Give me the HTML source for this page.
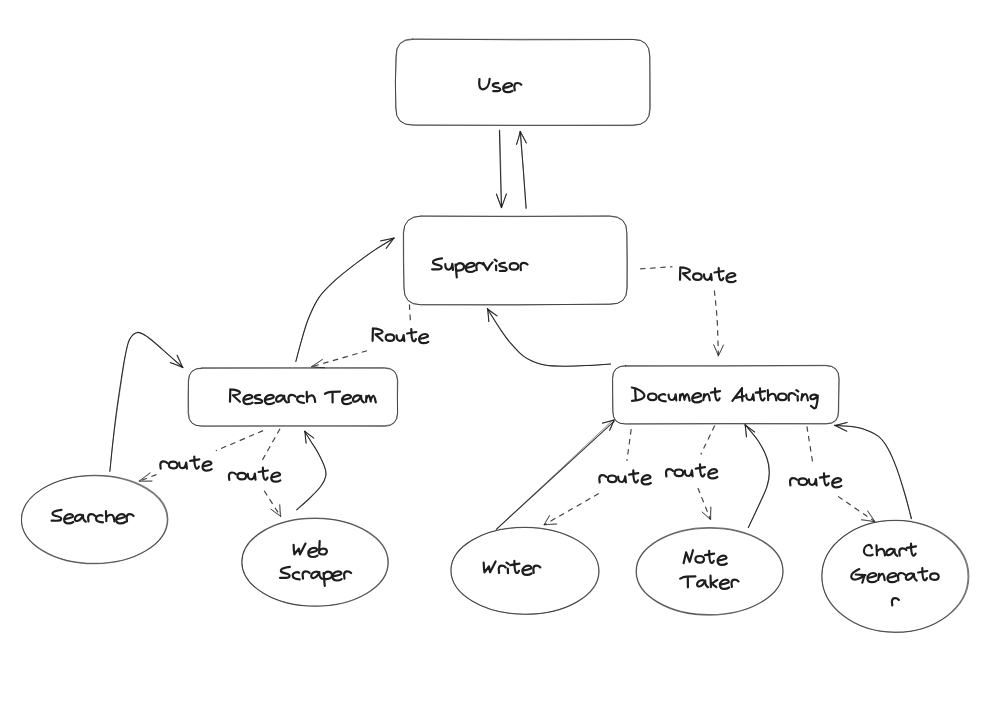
<!DOCTYPE html>
<html><head><meta charset="utf-8"><title>Hierarchical agent teams</title>
<style>
html,body{margin:0;padding:0;background:#fff;font-family:"Liberation Sans",sans-serif;}
body{width:1000px;height:707px;overflow:hidden;}
svg{display:block;}
.sh path,.sh rect,.sh ellipse{fill:none;stroke:#1e1e1e;stroke-width:1.05;stroke-opacity:0.9;stroke-linecap:round;stroke-linejoin:round;}
.sh .s1{stroke-opacity:0.55;stroke-width:0.9;}
.sh .b0,.sh .b1{stroke-opacity:0.6;stroke-width:1;}
.sh .d{stroke-dasharray:5.5 4.5;stroke-opacity:0.85;stroke-width:1.15;stroke-linecap:butt;}
.sh .da{stroke-opacity:0.6;stroke-width:0.9;}
.tx .lbl{font-family:"Liberation Sans",sans-serif;font-size:19px;fill:none;stroke:none;}
.tx path{fill:none;stroke:#1e1e1e;stroke-width:2.2;stroke-linecap:round;stroke-linejoin:round;}
</style></head><body>
<svg width="1000" height="707" viewBox="0 0 1000 707">
<rect width="1000" height="707" fill="#fff"/>
<g class="sh">
<path class="b0" d="M412.8,39.3 L523.1,39.3 L632.9,39.4 Q649.7,39.3 650.0,56.5 L649.7,82.2 L649.7,108.5 Q650.0,125.0 633.2,125.6 L522.9,125.4 L412.6,125.0 Q395.8,125.0 395.6,108.1 L395.5,82.3 L395.8,56.5 Q395.8,39.4 412.8,39.4"/>
<path class="b1" d="M412.7,39.0 L523.4,39.9 L633.3,39.5 Q649.7,39.0 649.6,55.8 L650.2,82.2 L650.3,108.2 Q650.4,125.7 632.3,125.0 L523.3,125.3 L413.4,125.2 Q395.3,125.5 396.1,108.0 L395.3,82.1 L396.4,56.6 Q395.3,39.0 412.3,38.8"/>
<path class="b0" d="M421.0,216.0 L515.5,216.2 L609.9,216.3 Q626.9,216.3 626.9,233.2 L626.9,260.2 L627.4,287.7 Q627.0,304.7 609.9,304.4 L515.7,304.6 L420.6,304.8 Q403.6,304.4 404.0,287.4 L403.7,260.1 L403.6,233.2 Q403.6,216.3 420.7,216.2"/>
<path class="b1" d="M421.4,216.2 L515.5,216.6 L609.7,215.8 Q627.6,216.6 626.8,232.8 L627.4,260.9 L626.7,288.0 Q627.6,304.6 610.0,304.0 L514.9,305.1 L420.5,304.7 Q403.5,304.9 403.9,287.3 L403.4,260.6 L403.3,232.9 Q403.9,216.6 420.9,215.9"/>
<path class="b0" d="M201.9,367.7 L292.7,367.8 L384.4,367.6 Q397.2,367.8 397.4,380.7 L397.3,397.1 L397.7,413.0 Q397.5,426.0 384.2,425.6 L292.7,426.1 L201.7,426.2 Q188.3,426.0 188.6,413.0 L188.5,397.2 L188.3,380.9 Q188.7,368.1 201.7,368.0"/>
<path class="b1" d="M202.0,368.4 L292.8,368.1 L384.9,368.3 Q397.3,368.2 397.8,381.0 L397.5,396.8 L397.5,413.0 Q396.9,426.1 385.0,426.4 L293.3,425.8 L201.9,426.0 Q188.5,426.3 188.1,413.2 L188.0,397.0 L188.6,380.6 Q188.8,367.9 201.7,368.4"/>
<path class="b0" d="M625.5,365.6 L725.6,366.0 L825.7,365.7 Q839.1,366.0 838.9,379.1 L838.8,395.0 L838.7,411.0 Q839.1,424.2 826.1,423.9 L725.8,423.9 L625.4,424.0 Q612.8,424.2 612.7,411.3 L612.5,394.8 L612.6,378.8 Q612.4,365.8 625.7,365.9"/>
<path class="b1" d="M625.4,366.3 L726.3,365.8 L825.4,365.3 Q839.3,365.3 839.2,379.0 L838.7,395.3 L838.3,410.6 Q838.8,423.4 826.3,423.7 L725.3,423.5 L625.8,423.9 Q612.8,424.2 613.0,411.6 L612.8,394.6 L612.6,378.5 Q612.0,365.9 625.9,365.5"/>
<ellipse class="b0" cx="94.3" cy="519.5" rx="72.9" ry="43.8" transform="rotate(0.14 94.4 519.6)"/>
<ellipse class="b1" cx="94.7" cy="519.5" rx="73.2" ry="44.3" transform="rotate(-0.50 94.4 519.6)"/>
<ellipse class="b0" cx="314.9" cy="562.3" rx="73.0" ry="43.7" transform="rotate(0.15 314.6 562.2)"/>
<ellipse class="b1" cx="315.1" cy="562.1" rx="73.3" ry="44.2" transform="rotate(0.36 314.6 562.2)"/>
<ellipse class="b0" cx="524.9" cy="570.7" rx="73.9" ry="43.5" transform="rotate(0.27 524.6 570.7)"/>
<ellipse class="b1" cx="525.0" cy="570.9" rx="74.1" ry="43.4" transform="rotate(0.48 524.6 570.7)"/>
<ellipse class="b0" cx="709.5" cy="571.3" rx="73.5" ry="43.9" transform="rotate(-0.22 709.2 571)"/>
<ellipse class="b1" cx="709.7" cy="571.4" rx="73.3" ry="43.2" transform="rotate(-0.07 709.2 571)"/>
<ellipse class="b0" cx="895.4" cy="576.2" rx="73.5" ry="55.9" transform="rotate(0.37 895.4 576.0)"/>
<ellipse class="b1" cx="894.9" cy="576.4" rx="73.1" ry="56.0" transform="rotate(0.35 895.4 576.0)"/>
<path d="M499.4,130.5 Q500.2,168.7 501.6,207.6"/>
<path class="s1" d="M499.8,130.0 Q501.1,168.9 501.2,207.5"/>
<path d="M496.4,194.0 Q498.8,200.9 501.6,207.5"/>
<path class="s1" d="M496.7,194.3 Q498.7,200.6 501.3,207.8"/>
<path d="M506.3,193.9 Q504.1,200.8 501.5,207.5"/>
<path class="s1" d="M506.7,194.0 Q504.0,200.2 501.4,207.7"/>
<path d="M526.2,208.2 Q523.3,170.0 520.4,131.6"/>
<path class="s1" d="M525.9,208.4 Q523.9,170.6 520.0,131.5"/>
<path d="M516.5,144.4 Q518.6,138.2 520.3,131.6"/>
<path class="s1" d="M516.7,144.1 Q519.0,137.6 520.2,131.4"/>
<path d="M526.4,143.0 Q523.5,137.2 520.3,131.7"/>
<path class="s1" d="M526.2,142.8 Q522.9,137.3 520.4,131.5"/>
<path d="M295.9,361.4 C296.8,358.1 299.1,348.9 301.2,341.7 C303.3,334.5 305.6,325.7 308.6,318.3 C311.6,310.9 314.8,303.5 319.2,297.1 C323.6,290.8 329.0,285.9 335.2,280.2 C341.4,274.5 349.7,268.3 356.4,263.2 C363.1,258.1 369.2,253.6 375.5,249.4 C381.8,245.2 390.8,240.1 393.9,238.2"/>
<path class="s1" d="M295.8,361.3 C296.7,358.0 299.1,348.6 301.2,341.4 C303.3,334.3 305.3,325.8 308.4,318.4 C311.4,311.0 314.8,303.5 319.3,297.1 C323.8,290.8 329.3,286.0 335.5,280.3 C341.7,274.6 350.0,268.1 356.7,263.0 C363.4,257.9 369.4,253.8 375.7,249.6 C381.9,245.5 391.1,240.0 394.2,238.1"/>
<path d="M380.7,241.1 Q387.3,239.8 394.0,238.1"/>
<path class="s1" d="M380.6,240.6 Q387.0,239.8 394.2,238.1"/>
<path d="M386.1,248.4 Q390.1,243.1 393.7,238.1"/>
<path class="s1" d="M386.5,248.0 Q390.2,243.7 393.9,238.4"/>
<path class="d" d="M409.4,304.5 C409.6,307.5 410.3,319.6 410.5,322.6"/>
<path class="d" d="M367.0,350.8 C357.8,353.4 321.0,364.1 311.8,366.7"/>
<path class="da" d="M322.3,359.6 Q317.1,363.3 311.7,366.6"/>
<path class="da" d="M322.5,359.4 Q317.2,363.2 311.5,366.5"/>
<path class="da" d="M324.6,367.7 Q318.3,367.5 311.7,366.8"/>
<path class="da" d="M324.4,367.8 Q318.1,367.6 311.8,366.6"/>
<path class="d" d="M640.1,268.9 C645.5,268.5 667.1,267.1 672.5,266.7"/>
<path class="d" d="M714.3,290.5 C714.8,295.0 716.3,306.7 717.0,317.5 C717.7,328.3 718.2,349.0 718.4,355.3"/>
<path class="da" d="M713.9,345.1 Q716.1,350.2 718.3,355.8"/>
<path class="da" d="M713.6,344.7 Q716.4,350.3 718.4,355.4"/>
<path class="da" d="M723.3,345.1 Q721.0,350.5 718.4,355.8"/>
<path class="da" d="M723.6,345.2 Q720.9,350.4 718.2,356.1"/>
<path d="M610.4,363.9 C606.4,364.2 594.6,365.2 586.1,365.6 C577.6,366.0 566.8,366.4 559.1,366.1 C551.5,365.8 546.1,365.5 540.2,363.9 C534.4,362.3 529.0,360.1 524.0,356.6 C519.0,353.1 514.5,347.8 510.5,343.1 C506.4,338.4 503.5,334.0 499.7,328.3 C495.9,322.6 489.5,312.1 487.5,308.9"/>
<path class="s1" d="M610.6,364.1 C606.6,364.4 594.9,365.1 586.4,365.5 C577.8,365.9 567.1,366.6 559.4,366.4 C551.8,366.2 546.2,365.8 540.4,364.1 C534.5,362.5 529.2,360.1 524.2,356.5 C519.3,353.0 514.8,347.5 510.7,342.8 C506.6,338.0 503.5,333.9 499.6,328.3 C495.6,322.6 489.2,312.0 487.1,308.8"/>
<path d="M488.8,321.6 Q488.3,315.3 487.6,308.8"/>
<path class="s1" d="M488.9,321.4 Q488.4,315.3 487.9,309.0"/>
<path d="M497.2,315.9 Q492.3,312.6 487.5,309.0"/>
<path class="s1" d="M496.6,315.9 Q492.0,312.4 487.4,308.6"/>
<path d="M109.9,471.2 C110.4,466.8 111.6,453.9 112.6,444.5 C113.6,435.1 114.7,425.3 116.0,415.1 C117.3,404.9 119.1,393.2 120.6,383.4 C122.1,373.6 123.6,363.6 125.1,356.2 C126.6,348.8 127.5,343.2 129.6,339.2 C131.7,335.2 134.5,332.8 137.5,332.4 C140.5,332.0 143.5,334.2 147.7,337.0 C151.8,339.8 156.6,344.3 162.4,349.4 C168.2,354.5 179.4,364.5 182.8,367.5"/>
<path class="s1" d="M109.7,471.5 C110.2,467.0 111.5,453.9 112.6,444.5 C113.8,435.1 115.0,425.3 116.4,415.2 C117.8,405.0 119.5,393.4 121.0,383.5 C122.5,373.6 123.9,363.2 125.3,355.9 C126.8,348.5 127.7,343.3 129.7,339.4 C131.6,335.6 134.2,333.1 137.1,332.7 C140.1,332.3 143.3,334.2 147.4,337.0 C151.6,339.8 156.2,344.4 162.1,349.4 C168.0,354.4 179.4,364.2 182.9,367.1"/>
<path d="M170.4,362.6 Q176.8,365.0 182.8,367.4"/>
<path class="s1" d="M170.2,362.8 Q176.8,365.1 182.6,367.1"/>
<path d="M177.0,355.2 Q179.8,361.1 182.8,367.6"/>
<path class="s1" d="M177.5,355.5 Q180.2,360.8 182.5,367.8"/>
<path class="d" d="M263.1,430.6 C255.2,434.0 223.7,447.4 215.8,450.8"/>
<path class="d" d="M156.4,474.6 C153.5,475.7 142.1,480.1 139.2,481.2"/>
<path class="da" d="M150.0,472.7 Q144.5,477.0 139.2,481.3"/>
<path class="da" d="M150.2,473.1 Q144.8,477.0 139.3,480.9"/>
<path class="da" d="M151.9,481.1 Q145.7,481.2 139.2,481.1"/>
<path class="da" d="M152.0,481.0 Q145.5,481.4 139.3,481.1"/>
<path class="d" d="M280.0,428.8 C277.0,434.1 265.0,455.4 262.0,460.7"/>
<path class="d" d="M264.2,490.8 C266.9,495.1 277.9,512.1 280.7,516.4"/>
<path class="da" d="M271.0,509.2 Q275.9,512.8 280.8,516.3"/>
<path class="da" d="M271.0,509.2 Q275.3,513.2 280.6,516.2"/>
<path class="da" d="M279.6,504.7 Q280.2,510.6 280.8,516.3"/>
<path class="da" d="M279.9,505.0 Q279.8,511.1 280.3,516.0"/>
<path d="M296.7,509.8 C298.8,507.9 305.4,502.4 309.4,498.5 C313.4,494.6 318.0,490.1 320.7,486.5 C323.4,482.9 325.0,479.7 325.7,476.6 C326.4,473.5 326.3,472.1 325.0,468.1 C323.7,464.1 320.3,457.0 317.9,452.5 C315.5,448.0 313.0,444.7 310.8,441.2 C308.6,437.7 305.6,432.9 304.5,431.3"/>
<path class="s1" d="M296.5,509.7 C298.7,507.8 305.5,502.1 309.5,498.2 C313.5,494.3 318.1,489.7 320.7,486.2 C323.4,482.6 324.7,479.7 325.4,476.7 C326.1,473.7 326.3,472.2 325.0,468.2 C323.8,464.2 320.2,457.0 317.8,452.5 C315.4,448.0 312.8,444.6 310.6,441.1 C308.4,437.6 305.7,433.2 304.7,431.6"/>
<path d="M306.1,443.1 Q305.2,437.1 305.0,431.3"/>
<path class="s1" d="M306.2,443.0 Q305.4,437.0 305.0,431.8"/>
<path d="M313.8,438.1 Q309.2,434.7 304.9,431.4"/>
<path class="s1" d="M313.4,437.7 Q308.8,435.2 305.0,431.4"/>
<path d="M496.3,529.3 L614.3,421.2"/>
<path class="s1" d="M496.4,529.2 Q555,474.6 613.4,419.6"/>
<path d="M602.5,423.1 Q608.2,421.6 613.8,420.2"/>
<path class="s1" d="M602.6,423.4 Q607.6,421.4 613.7,419.8"/>
<path d="M609.6,430.3 Q611.7,425.4 614.0,420.1"/>
<path class="s1" d="M609.9,430.4 Q612.3,425.8 614.1,419.9"/>
<path class="d" d="M631.2,429.2 C630.5,434.5 627.6,455.6 626.9,460.9"/>
<path class="d" d="M598.8,493.5 C589.7,498.7 553.4,519.5 544.3,524.7"/>
<path class="da" d="M549.7,515.7 Q546.9,520.1 544.2,524.7"/>
<path class="da" d="M549.5,515.5 Q546.8,520.0 544.1,524.8"/>
<path class="da" d="M556.9,524.0 Q550.7,524.4 544.2,524.8"/>
<path class="da" d="M556.4,524.0 Q551.0,524.1 544.3,524.8"/>
<path class="d" d="M714.7,425.6 C712.4,430.4 703.1,449.6 700.8,454.4"/>
<path class="d" d="M697.9,488.0 C700.0,493.2 708.3,514.0 710.4,519.2"/>
<path class="da" d="M702.1,511.9 Q706.4,515.7 710.4,519.3"/>
<path class="da" d="M702.2,512.3 Q705.7,515.1 710.1,519.3"/>
<path class="da" d="M710.9,507.1 Q710.5,513.3 710.3,519.3"/>
<path class="da" d="M710.8,507.1 Q710.7,513.5 710.8,519.3"/>
<path d="M748.3,527.6 C750.0,524.0 755.3,512.8 758.4,506.0 C761.5,499.2 765.0,492.4 766.8,486.8 C768.6,481.2 769.2,477.2 769.2,472.4 C769.2,467.6 768.6,463.2 766.8,458.0 C765.0,452.8 762.0,446.7 758.4,441.2 C754.8,435.7 747.4,427.6 745.2,424.9"/>
<path class="s1" d="M748.3,527.6 C750.0,524.1 755.4,513.0 758.6,506.2 C761.7,499.3 765.3,492.3 767.1,486.7 C768.9,481.1 769.5,477.3 769.5,472.5 C769.5,467.8 768.9,463.4 767.1,458.2 C765.3,453.1 762.3,447.0 758.7,441.5 C755.1,436.0 747.7,427.8 745.6,425.0"/>
<path d="M746.5,436.9 Q745.8,431.0 745.2,424.8"/>
<path class="s1" d="M746.3,436.6 Q746.1,431.5 745.0,424.8"/>
<path d="M754.7,432.0 Q749.9,428.7 745.1,424.9"/>
<path class="s1" d="M754.4,432.1 Q750.3,428.1 745.3,425.2"/>
<path class="d" d="M806.9,426.3 C807.9,432.8 812.1,458.7 813.1,465.2"/>
<path class="d" d="M838.1,496.4 C844.2,500.6 868.7,517.4 874.8,521.6"/>
<path class="da" d="M861.5,519.8 Q868.0,520.6 874.7,521.7"/>
<path class="da" d="M861.3,519.7 Q868.3,520.4 874.5,521.8"/>
<path class="da" d="M867.7,510.8 Q871.1,516.2 874.7,521.7"/>
<path class="da" d="M867.6,511.2 Q871.7,516.0 874.8,521.4"/>
<path d="M911.5,518.5 C910.4,514.4 907.3,502.5 904.8,494.0 C902.3,485.5 899.2,475.2 896.4,467.6 C893.6,460.0 891.0,453.6 888.0,448.4 C885.0,443.2 882.4,439.6 878.4,436.4 C874.4,433.2 868.8,430.9 864.0,429.2 C859.2,427.5 854.5,426.9 849.6,426.3 C844.7,425.7 837.2,425.5 834.7,425.4"/>
<path class="s1" d="M911.1,518.9 C910.1,514.7 907.5,502.4 905.0,493.9 C902.6,485.4 899.3,475.1 896.4,467.6 C893.6,460.1 890.8,454.0 887.8,448.8 C884.8,443.6 882.6,439.5 878.5,436.2 C874.5,432.9 868.4,430.8 863.6,429.2 C858.8,427.6 854.3,427.2 849.5,426.5 C844.7,425.9 837.3,425.7 834.9,425.5"/>
<path d="M847.1,422.4 Q840.8,423.8 834.8,425.4"/>
<path class="s1" d="M847.0,422.5 Q841.1,424.5 834.4,425.6"/>
<path d="M846.8,431.2 Q840.5,428.4 834.6,425.3"/>
<path class="s1" d="M846.7,431.1 Q841.0,427.8 835.1,425.5"/>
</g>
<g class="tx">
<g aria-label="User"><text class="lbl" x="478.1" y="90.1">User</text>
<path transform="translate(478.56,90.10)" d="M0.9,-11.1 C0.3,-6 0.5,-0.8 4,-0.8 C8,-0.8 10.8,-5 11.1,-11.3"/>
<path transform="translate(491.50,90.10)" d="M6.8,-7.0 C5,-7.2 1.4,-6.6 1.2,-5.0 C1.1,-3.9 2.8,-3.4 4.1,-3.1 C6,-2.6 8.7,-2.2 8.8,-0.8 C8.9,0.4 7.4,0.9 6,1.0 C4.5,1.1 3,1.1 1.8,1.1"/>
<path transform="translate(502.40,90.10)" d="M1.1,-2.1 C3,-2.4 6.5,-3 8.7,-4.0 C9.6,-4.5 9.9,-5.2 9.5,-5.8 C9,-6.6 8,-7.1 6.7,-7.1 C3.5,-7.1 0.8,-4.8 0.8,-1.8 C0.8,0.6 2.6,2.1 5.2,2.1 C7,2.1 8.8,1.5 10,0.7"/>
<path transform="translate(513.33,90.10)" d="M1.4,0.2 C1.1,-2 0.9,-3.4 1.0,-4.2 C1.2,-6 2.5,-7.1 4.0,-7.1 C5.6,-7.1 7.1,-6.4 8.0,-5.4"/></g>
<g aria-label="Supervisor"><text class="lbl" x="431.0" y="269.9">Supervisor</text>
<path transform="translate(431.60,269.90)" d="M10.4,-11.5 C6.5,-11 1.5,-10 1.4,-7.9 C1.3,-6.4 3,-5.8 4.4,-5.5 C7,-4.9 10,-4.4 10.1,-2.8 C10.2,-1.2 8.5,-0.7 7,-0.6 C5,-0.5 2.5,-0.6 0.5,-0.6"/>
<path transform="translate(444.21,269.90)" d="M1.1,-5.8 C1,-2.4 2,-0.3 4.3,-0.3 C6.3,-0.3 7.7,-2.8 8.1,-6.0 L8.8,0.1"/>
<path transform="translate(454.50,269.90)" d="M1.0,-5.4 L2.3,7.4 M1.2,-3.7 C2.4,-5.8 4.8,-6.9 6.6,-6.6 C8.6,-6.2 9.6,-4.8 9.5,-3.1 C9.4,-1 7,0.6 3.8,0.7 C2.8,0.7 2,0.4 1.6,-0.1"/>
<path transform="translate(464.90,269.90)" d="M1.1,-2.1 C3,-2.4 6.5,-3 8.7,-4.0 C9.6,-4.5 9.9,-5.2 9.5,-5.8 C9,-6.6 8,-7.1 6.7,-7.1 C3.5,-7.1 0.8,-4.8 0.8,-1.8 C0.8,0.6 2.6,2.1 5.2,2.1 C7,2.1 8.8,1.5 10,0.7"/>
<path transform="translate(475.33,269.90)" d="M1.4,0.2 C1.1,-2 0.9,-3.4 1.0,-4.2 C1.2,-6 2.5,-7.1 4.0,-7.1 C5.6,-7.1 7.1,-6.4 8.0,-5.4"/>
<path transform="translate(482.40,269.90)" d="M0.9,-7.0 L5.0,0.1 C6.5,-3 8.5,-6 10.2,-7.6"/>
<path transform="translate(494.50,269.90)" d="M0.2,-10.2 L2.2,-8.9 M1.5,-4.3 L1.7,0.3"/>
<path transform="translate(498.00,269.90)" d="M6.8,-7.0 C5,-7.2 1.4,-6.6 1.2,-5.0 C1.1,-3.9 2.8,-3.4 4.1,-3.1 C6,-2.6 8.7,-2.2 8.8,-0.8 C8.9,0.4 7.4,0.9 6,1.0 C4.5,1.1 3,1.1 1.8,1.1"/>
<path transform="translate(508.80,269.90)" d="M5.2,-6.8 C2.6,-6.8 0.9,-5.3 0.9,-3.5 C0.9,-1.7 2.6,-0.2 5.2,-0.2 C7.8,-0.2 9.5,-1.7 9.5,-3.6 C9.5,-5.4 7.8,-6.8 5.2,-6.8 Z"/>
<path transform="translate(519.53,269.90)" d="M1.4,0.2 C1.1,-2 0.9,-3.4 1.0,-4.2 C1.2,-6 2.5,-7.1 4.0,-7.1 C5.6,-7.1 7.1,-6.4 8.0,-5.4"/></g>
<g aria-label="Route"><text class="lbl" x="678.9" y="280.1">Route</text>
<path transform="translate(678.60,280.10)" d="M1.7,-12.7 L1.4,-0.3 M1.7,-12.7 C6,-12.7 11.4,-11 11.3,-9.2 C11.2,-7.6 7,-6.9 4.3,-6.7 L11.3,-0.3"/>
<path transform="translate(692.20,280.10)" d="M5.2,-6.8 C2.6,-6.8 0.9,-5.3 0.9,-3.5 C0.9,-1.7 2.6,-0.2 5.2,-0.2 C7.8,-0.2 9.5,-1.7 9.5,-3.6 C9.5,-5.4 7.8,-6.8 5.2,-6.8 Z"/>
<path transform="translate(702.91,280.10)" d="M1.1,-5.8 C1,-2.4 2,-0.3 4.3,-0.3 C6.3,-0.3 7.7,-2.8 8.1,-6.0 L8.8,0.1"/>
<path transform="translate(713.90,280.10)" d="M4.8,-11.9 C4.8,-7 5,-1 6.8,0 C7.8,0.5 9,-0.5 9.4,-2 M0.6,-7.6 L9.8,-9.1"/>
<path transform="translate(725.60,280.10)" d="M1.1,-2.1 C3,-2.4 6.5,-3 8.7,-4.0 C9.6,-4.5 9.9,-5.2 9.5,-5.8 C9,-6.6 8,-7.1 6.7,-7.1 C3.5,-7.1 0.8,-4.8 0.8,-1.8 C0.8,0.6 2.6,2.1 5.2,2.1 C7,2.1 8.8,1.5 10,0.7"/></g>
<g aria-label="Route"><text class="lbl" x="371.5" y="341.1">Route</text>
<path transform="translate(371.20,341.10)" d="M1.7,-12.7 L1.4,-0.3 M1.7,-12.7 C6,-12.7 11.4,-11 11.3,-9.2 C11.2,-7.6 7,-6.9 4.3,-6.7 L11.3,-0.3"/>
<path transform="translate(384.80,341.10)" d="M5.2,-6.8 C2.6,-6.8 0.9,-5.3 0.9,-3.5 C0.9,-1.7 2.6,-0.2 5.2,-0.2 C7.8,-0.2 9.5,-1.7 9.5,-3.6 C9.5,-5.4 7.8,-6.8 5.2,-6.8 Z"/>
<path transform="translate(395.51,341.10)" d="M1.1,-5.8 C1,-2.4 2,-0.3 4.3,-0.3 C6.3,-0.3 7.7,-2.8 8.1,-6.0 L8.8,0.1"/>
<path transform="translate(406.50,341.10)" d="M4.8,-11.9 C4.8,-7 5,-1 6.8,0 C7.8,0.5 9,-0.5 9.4,-2 M0.6,-7.6 L9.8,-9.1"/>
<path transform="translate(418.30,341.10)" d="M1.1,-2.1 C3,-2.4 6.5,-3 8.7,-4.0 C9.6,-4.5 9.9,-5.2 9.5,-5.8 C9,-6.6 8,-7.1 6.7,-7.1 C3.5,-7.1 0.8,-4.8 0.8,-1.8 C0.8,0.6 2.6,2.1 5.2,2.1 C7,2.1 8.8,1.5 10,0.7"/></g>
<g aria-label="Research Team"><text class="lbl" x="228.9" y="402.0">Research Team</text>
<path transform="translate(228.60,402.00)" d="M1.7,-12.7 L1.4,-0.3 M1.7,-12.7 C6,-12.7 11.4,-11 11.3,-9.2 C11.2,-7.6 7,-6.9 4.3,-6.7 L11.3,-0.3"/>
<path transform="translate(242.60,402.00)" d="M1.1,-2.1 C3,-2.4 6.5,-3 8.7,-4.0 C9.6,-4.5 9.9,-5.2 9.5,-5.8 C9,-6.6 8,-7.1 6.7,-7.1 C3.5,-7.1 0.8,-4.8 0.8,-1.8 C0.8,0.6 2.6,2.1 5.2,2.1 C7,2.1 8.8,1.5 10,0.7"/>
<path transform="translate(253.40,402.00)" d="M6.8,-7.0 C5,-7.2 1.4,-6.6 1.2,-5.0 C1.1,-3.9 2.8,-3.4 4.1,-3.1 C6,-2.6 8.7,-2.2 8.8,-0.8 C8.9,0.4 7.4,0.9 6,1.0 C4.5,1.1 3,1.1 1.8,1.1"/>
<path transform="translate(264.10,402.00)" d="M1.1,-2.1 C3,-2.4 6.5,-3 8.7,-4.0 C9.6,-4.5 9.9,-5.2 9.5,-5.8 C9,-6.6 8,-7.1 6.7,-7.1 C3.5,-7.1 0.8,-4.8 0.8,-1.8 C0.8,0.6 2.6,2.1 5.2,2.1 C7,2.1 8.8,1.5 10,0.7"/>
<path transform="translate(274.80,402.00)" d="M9.2,-5.4 C8.2,-6.6 6.8,-6.9 5.6,-6.6 C3.2,-6 1.3,-4.2 1.3,-2.3 C1.3,-0.8 2.4,-0.2 3.6,-0.3 C5.6,-0.5 7.8,-2.8 9.4,-5.8 M9.4,-6.2 C9.3,-4 9.6,-2.6 10.2,-1.6 C10.8,-0.7 11.5,0 12.2,0.4"/>
<path transform="translate(287.53,402.00)" d="M1.4,0.2 C1.1,-2 0.9,-3.4 1.0,-4.2 C1.2,-6 2.5,-7.1 4.0,-7.1 C5.6,-7.1 7.1,-6.4 8.0,-5.4"/>
<path transform="translate(296.20,402.00)" d="M7.3,-5.6 C5.8,-7.0 0.9,-5.8 0.9,-2.9 C0.9,0 4.2,0.8 7.9,1.0"/>
<path transform="translate(305.90,402.00)" d="M0.8,-10.1 L1.2,-0.2 M1.2,-3.6 C2.5,-6.2 6,-7.4 7.6,-5.8 C8.8,-4.4 9,-2 9.3,0"/>
<path transform="translate(324.50,402.00)" d="M0.4,-8.2 C2.5,-9.4 4.5,-10.1 6.7,-10.2 L15.6,-10.4 M8.0,-10.2 L8.1,0.5"/>
<path transform="translate(341.30,402.00)" d="M1.1,-2.1 C3,-2.4 6.5,-3 8.7,-4.0 C9.6,-4.5 9.9,-5.2 9.5,-5.8 C9,-6.6 8,-7.1 6.7,-7.1 C3.5,-7.1 0.8,-4.8 0.8,-1.8 C0.8,0.6 2.6,2.1 5.2,2.1 C7,2.1 8.8,1.5 10,0.7"/>
<path transform="translate(351.70,402.00)" d="M9.2,-5.4 C8.2,-6.6 6.8,-6.9 5.6,-6.6 C3.2,-6 1.3,-4.2 1.3,-2.3 C1.3,-0.8 2.4,-0.2 3.6,-0.3 C5.6,-0.5 7.8,-2.8 9.4,-5.8 M9.4,-6.2 C9.3,-4 9.6,-2.6 10.2,-1.6 C10.8,-0.7 11.5,0 12.2,0.4"/>
<path transform="translate(364.30,402.00)" d="M2.0,-5.8 L1.8,0 M1.9,-2.6 C2.6,-4.6 3.6,-6.2 4.5,-6.4 C5.4,-6.4 5.8,-3.5 6.5,-0.5 M6.4,-1.6 C7.2,-4 8.2,-6 9.1,-6.2 C10.2,-6.2 10.8,-3 11.5,0.4"/></g>
<g aria-label="Document Authoring"><text class="lbl" x="630.7" y="400.3">Document Authoring</text>
<path transform="translate(631.20,400.30)" d="M3.9,-11.6 L4.6,-0.4 M0.6,-12.8 C6,-12.2 13.4,-8 13.2,-4.4 C13,-1.2 6,0.2 0.8,0.6"/>
<path transform="translate(647.10,400.30)" d="M5.2,-6.8 C2.6,-6.8 0.9,-5.3 0.9,-3.5 C0.9,-1.7 2.6,-0.2 5.2,-0.2 C7.8,-0.2 9.5,-1.7 9.5,-3.6 C9.5,-5.4 7.8,-6.8 5.2,-6.8 Z"/>
<path transform="translate(657.90,400.30)" d="M7.3,-5.6 C5.8,-7.0 0.9,-5.8 0.9,-2.9 C0.9,0 4.2,0.8 7.9,1.0"/>
<path transform="translate(667.51,400.30)" d="M1.1,-5.8 C1,-2.4 2,-0.3 4.3,-0.3 C6.3,-0.3 7.7,-2.8 8.1,-6.0 L8.8,0.1"/>
<path transform="translate(678.10,400.30)" d="M2.0,-5.8 L1.8,0 M1.9,-2.6 C2.6,-4.6 3.6,-6.2 4.5,-6.4 C5.4,-6.4 5.8,-3.5 6.5,-0.5 M6.4,-1.6 C7.2,-4 8.2,-6 9.1,-6.2 C10.2,-6.2 10.8,-3 11.5,0.4"/>
<path transform="translate(691.40,400.30)" d="M1.1,-2.1 C3,-2.4 6.5,-3 8.7,-4.0 C9.6,-4.5 9.9,-5.2 9.5,-5.8 C9,-6.6 8,-7.1 6.7,-7.1 C3.5,-7.1 0.8,-4.8 0.8,-1.8 C0.8,0.6 2.6,2.1 5.2,2.1 C7,2.1 8.8,1.5 10,0.7"/>
<path transform="translate(702.50,400.30)" d="M1.7,-6.3 L0.8,-0.1 M1.1,-2.2 C2.2,-4.4 3.8,-6.3 5.1,-6.3 C6.4,-6.2 6.9,-3 7.3,0.1"/>
<path transform="translate(710.20,400.30)" d="M4.8,-11.9 C4.8,-7 5,-1 6.8,0 C7.8,0.5 9,-0.5 9.4,-2 M0.6,-7.6 L9.8,-9.1"/>
<path transform="translate(729.40,400.30)" d="M12.6,-12.2 L3.0,0.5 M12.6,-12.2 C12.2,-8.5 12.6,-4 13.0,0.5 M6.2,-2.4 L14.6,-4.1"/>
<path transform="translate(745.11,400.30)" d="M1.1,-5.8 C1,-2.4 2,-0.3 4.3,-0.3 C6.3,-0.3 7.7,-2.8 8.1,-6.0 L8.8,0.1"/>
<path transform="translate(755.20,400.30)" d="M4.8,-11.9 C4.8,-7 5,-1 6.8,0 C7.8,0.5 9,-0.5 9.4,-2 M0.6,-7.6 L9.8,-9.1"/>
<path transform="translate(767.00,400.30)" d="M0.8,-10.1 L1.2,-0.2 M1.2,-3.6 C2.5,-6.2 6,-7.4 7.6,-5.8 C8.8,-4.4 9,-2 9.3,0"/>
<path transform="translate(777.10,400.30)" d="M5.2,-6.8 C2.6,-6.8 0.9,-5.3 0.9,-3.5 C0.9,-1.7 2.6,-0.2 5.2,-0.2 C7.8,-0.2 9.5,-1.7 9.5,-3.6 C9.5,-5.4 7.8,-6.8 5.2,-6.8 Z"/>
<path transform="translate(787.53,400.30)" d="M1.4,0.2 C1.1,-2 0.9,-3.4 1.0,-4.2 C1.2,-6 2.5,-7.1 4.0,-7.1 C5.6,-7.1 7.1,-6.4 8.0,-5.4"/>
<path transform="translate(796.10,400.30)" d="M0.2,-10.2 L2.2,-8.9 M1.5,-4.3 L1.7,0.3"/>
<path transform="translate(800.60,400.30)" d="M1.7,-6.3 L0.8,-0.1 M1.1,-2.2 C2.2,-4.4 3.8,-6.3 5.1,-6.3 C6.4,-6.2 6.9,-3 7.3,0.1"/>
<path transform="translate(809.40,400.30)" d="M7.4,-4.8 C6,-6.2 1,-6 1,-3 C1,-0.2 4.5,-0.4 7.5,-3.6 M8.4,-4.7 C8.2,0 7.6,4 6.6,7.2 L4.8,8.2 L1.5,5.6"/></g>
<g aria-label="route"><text class="lbl" x="159.2" y="468.5">route</text>
<path transform="translate(159.33,468.50)" d="M1.4,0.2 C1.1,-2 0.9,-3.4 1.0,-4.2 C1.2,-6 2.5,-7.1 4.0,-7.1 C5.6,-7.1 7.1,-6.4 8.0,-5.4"/>
<path transform="translate(168.00,468.50)" d="M5.2,-6.8 C2.6,-6.8 0.9,-5.3 0.9,-3.5 C0.9,-1.7 2.6,-0.2 5.2,-0.2 C7.8,-0.2 9.5,-1.7 9.5,-3.6 C9.5,-5.4 7.8,-6.8 5.2,-6.8 Z"/>
<path transform="translate(178.11,468.50)" d="M1.1,-5.8 C1,-2.4 2,-0.3 4.3,-0.3 C6.3,-0.3 7.7,-2.8 8.1,-6.0 L8.8,0.1"/>
<path transform="translate(189.50,468.50)" d="M4.8,-11.9 C4.8,-7 5,-1 6.8,0 C7.8,0.5 9,-0.5 9.4,-2 M0.6,-7.6 L9.8,-9.1"/>
<path transform="translate(201.70,468.50)" d="M1.1,-2.1 C3,-2.4 6.5,-3 8.7,-4.0 C9.6,-4.5 9.9,-5.2 9.5,-5.8 C9,-6.6 8,-7.1 6.7,-7.1 C3.5,-7.1 0.8,-4.8 0.8,-1.8 C0.8,0.6 2.6,2.1 5.2,2.1 C7,2.1 8.8,1.5 10,0.7"/></g>
<g aria-label="route"><text class="lbl" x="227.8" y="479.6">route</text>
<path transform="translate(227.93,479.60)" d="M1.4,0.2 C1.1,-2 0.9,-3.4 1.0,-4.2 C1.2,-6 2.5,-7.1 4.0,-7.1 C5.6,-7.1 7.1,-6.4 8.0,-5.4"/>
<path transform="translate(236.60,479.60)" d="M5.2,-6.8 C2.6,-6.8 0.9,-5.3 0.9,-3.5 C0.9,-1.7 2.6,-0.2 5.2,-0.2 C7.8,-0.2 9.5,-1.7 9.5,-3.6 C9.5,-5.4 7.8,-6.8 5.2,-6.8 Z"/>
<path transform="translate(246.71,479.60)" d="M1.1,-5.8 C1,-2.4 2,-0.3 4.3,-0.3 C6.3,-0.3 7.7,-2.8 8.1,-6.0 L8.8,0.1"/>
<path transform="translate(258.10,479.60)" d="M4.8,-11.9 C4.8,-7 5,-1 6.8,0 C7.8,0.5 9,-0.5 9.4,-2 M0.6,-7.6 L9.8,-9.1"/>
<path transform="translate(270.40,479.60)" d="M1.1,-2.1 C3,-2.4 6.5,-3 8.7,-4.0 C9.6,-4.5 9.9,-5.2 9.5,-5.8 C9,-6.6 8,-7.1 6.7,-7.1 C3.5,-7.1 0.8,-4.8 0.8,-1.8 C0.8,0.6 2.6,2.1 5.2,2.1 C7,2.1 8.8,1.5 10,0.7"/></g>
<g aria-label="route"><text class="lbl" x="598.2" y="482.3">route</text>
<path transform="translate(598.33,482.30)" d="M1.4,0.2 C1.1,-2 0.9,-3.4 1.0,-4.2 C1.2,-6 2.5,-7.1 4.0,-7.1 C5.6,-7.1 7.1,-6.4 8.0,-5.4"/>
<path transform="translate(607.00,482.30)" d="M5.2,-6.8 C2.6,-6.8 0.9,-5.3 0.9,-3.5 C0.9,-1.7 2.6,-0.2 5.2,-0.2 C7.8,-0.2 9.5,-1.7 9.5,-3.6 C9.5,-5.4 7.8,-6.8 5.2,-6.8 Z"/>
<path transform="translate(617.11,482.30)" d="M1.1,-5.8 C1,-2.4 2,-0.3 4.3,-0.3 C6.3,-0.3 7.7,-2.8 8.1,-6.0 L8.8,0.1"/>
<path transform="translate(628.50,482.30)" d="M4.8,-11.9 C4.8,-7 5,-1 6.8,0 C7.8,0.5 9,-0.5 9.4,-2 M0.6,-7.6 L9.8,-9.1"/>
<path transform="translate(640.80,482.30)" d="M1.1,-2.1 C3,-2.4 6.5,-3 8.7,-4.0 C9.6,-4.5 9.9,-5.2 9.5,-5.8 C9,-6.6 8,-7.1 6.7,-7.1 C3.5,-7.1 0.8,-4.8 0.8,-1.8 C0.8,0.6 2.6,2.1 5.2,2.1 C7,2.1 8.8,1.5 10,0.7"/></g>
<g aria-label="route"><text class="lbl" x="664.9" y="476.3">route</text>
<path transform="translate(665.03,476.30)" d="M1.4,0.2 C1.1,-2 0.9,-3.4 1.0,-4.2 C1.2,-6 2.5,-7.1 4.0,-7.1 C5.6,-7.1 7.1,-6.4 8.0,-5.4"/>
<path transform="translate(673.70,476.30)" d="M5.2,-6.8 C2.6,-6.8 0.9,-5.3 0.9,-3.5 C0.9,-1.7 2.6,-0.2 5.2,-0.2 C7.8,-0.2 9.5,-1.7 9.5,-3.6 C9.5,-5.4 7.8,-6.8 5.2,-6.8 Z"/>
<path transform="translate(683.81,476.30)" d="M1.1,-5.8 C1,-2.4 2,-0.3 4.3,-0.3 C6.3,-0.3 7.7,-2.8 8.1,-6.0 L8.8,0.1"/>
<path transform="translate(695.20,476.30)" d="M4.8,-11.9 C4.8,-7 5,-1 6.8,0 C7.8,0.5 9,-0.5 9.4,-2 M0.6,-7.6 L9.8,-9.1"/>
<path transform="translate(707.40,476.30)" d="M1.1,-2.1 C3,-2.4 6.5,-3 8.7,-4.0 C9.6,-4.5 9.9,-5.2 9.5,-5.8 C9,-6.6 8,-7.1 6.7,-7.1 C3.5,-7.1 0.8,-4.8 0.8,-1.8 C0.8,0.6 2.6,2.1 5.2,2.1 C7,2.1 8.8,1.5 10,0.7"/></g>
<g aria-label="route"><text class="lbl" x="788.9" y="485.2">route</text>
<path transform="translate(789.03,485.20)" d="M1.4,0.2 C1.1,-2 0.9,-3.4 1.0,-4.2 C1.2,-6 2.5,-7.1 4.0,-7.1 C5.6,-7.1 7.1,-6.4 8.0,-5.4"/>
<path transform="translate(797.70,485.20)" d="M5.2,-6.8 C2.6,-6.8 0.9,-5.3 0.9,-3.5 C0.9,-1.7 2.6,-0.2 5.2,-0.2 C7.8,-0.2 9.5,-1.7 9.5,-3.6 C9.5,-5.4 7.8,-6.8 5.2,-6.8 Z"/>
<path transform="translate(807.81,485.20)" d="M1.1,-5.8 C1,-2.4 2,-0.3 4.3,-0.3 C6.3,-0.3 7.7,-2.8 8.1,-6.0 L8.8,0.1"/>
<path transform="translate(819.20,485.20)" d="M4.8,-11.9 C4.8,-7 5,-1 6.8,0 C7.8,0.5 9,-0.5 9.4,-2 M0.6,-7.6 L9.8,-9.1"/>
<path transform="translate(831.40,485.20)" d="M1.1,-2.1 C3,-2.4 6.5,-3 8.7,-4.0 C9.6,-4.5 9.9,-5.2 9.5,-5.8 C9,-6.6 8,-7.1 6.7,-7.1 C3.5,-7.1 0.8,-4.8 0.8,-1.8 C0.8,0.6 2.6,2.1 5.2,2.1 C7,2.1 8.8,1.5 10,0.7"/></g>
<g aria-label="Searcher"><text class="lbl" x="50.5" y="521.3">Searcher</text>
<path transform="translate(51.10,521.30)" d="M10.4,-11.5 C6.5,-11 1.5,-10 1.4,-7.9 C1.3,-6.4 3,-5.8 4.4,-5.5 C7,-4.9 10,-4.4 10.1,-2.8 C10.2,-1.2 8.5,-0.7 7,-0.6 C5,-0.5 2.5,-0.6 0.5,-0.6"/>
<path transform="translate(63.30,521.30)" d="M1.1,-2.1 C3,-2.4 6.5,-3 8.7,-4.0 C9.6,-4.5 9.9,-5.2 9.5,-5.8 C9,-6.6 8,-7.1 6.7,-7.1 C3.5,-7.1 0.8,-4.8 0.8,-1.8 C0.8,0.6 2.6,2.1 5.2,2.1 C7,2.1 8.8,1.5 10,0.7"/>
<path transform="translate(73.60,521.30)" d="M9.2,-5.4 C8.2,-6.6 6.8,-6.9 5.6,-6.6 C3.2,-6 1.3,-4.2 1.3,-2.3 C1.3,-0.8 2.4,-0.2 3.6,-0.3 C5.6,-0.5 7.8,-2.8 9.4,-5.8 M9.4,-6.2 C9.3,-4 9.6,-2.6 10.2,-1.6 C10.8,-0.7 11.5,0 12.2,0.4"/>
<path transform="translate(87.13,521.30)" d="M1.4,0.2 C1.1,-2 0.9,-3.4 1.0,-4.2 C1.2,-6 2.5,-7.1 4.0,-7.1 C5.6,-7.1 7.1,-6.4 8.0,-5.4"/>
<path transform="translate(95.10,521.30)" d="M7.3,-5.6 C5.8,-7.0 0.9,-5.8 0.9,-2.9 C0.9,0 4.2,0.8 7.9,1.0"/>
<path transform="translate(105.15,521.30)" d="M0.8,-10.1 L1.2,-0.2 M1.2,-3.6 C2.5,-6.2 6,-7.4 7.6,-5.8 C8.8,-4.4 9,-2 9.3,0"/>
<path transform="translate(115.30,521.30)" d="M1.1,-2.1 C3,-2.4 6.5,-3 8.7,-4.0 C9.6,-4.5 9.9,-5.2 9.5,-5.8 C9,-6.6 8,-7.1 6.7,-7.1 C3.5,-7.1 0.8,-4.8 0.8,-1.8 C0.8,0.6 2.6,2.1 5.2,2.1 C7,2.1 8.8,1.5 10,0.7"/>
<path transform="translate(125.63,521.30)" d="M1.4,0.2 C1.1,-2 0.9,-3.4 1.0,-4.2 C1.2,-6 2.5,-7.1 4.0,-7.1 C5.6,-7.1 7.1,-6.4 8.0,-5.4"/></g>
<g aria-label="Web"><text class="lbl" x="292.5" y="554.9">Web</text>
<path transform="translate(292.00,554.90)" d="M1.6,-10.1 C1.7,-6 2,-3 2.4,-0.5 L6.8,-6.3 L8.0,-0.6 L13.5,-11.3"/>
<path transform="translate(307.50,554.90)" d="M1.1,-2.1 C3,-2.4 6.5,-3 8.7,-4.0 C9.6,-4.5 9.9,-5.2 9.5,-5.8 C9,-6.6 8,-7.1 6.7,-7.1 C3.5,-7.1 0.8,-4.8 0.8,-1.8 C0.8,0.6 2.6,2.1 5.2,2.1 C7,2.1 8.8,1.5 10,0.7"/>
<path transform="translate(317.90,554.90)" d="M1.8,-13.9 C1.5,-9 1.3,-5 1.2,-1.4 M1.3,-4.1 C2.4,-5.6 3.8,-6.4 5.2,-6.4 C7.5,-6.3 9,-5 9,-3.6 C9,-1.8 7.4,-0.4 5.4,-0.4 C3.6,-0.4 2,-0.9 1.3,-1.6"/></g>
<g aria-label="Scraper"><text class="lbl" x="278.9" y="578.4">Scraper</text>
<path transform="translate(279.50,578.40)" d="M10.4,-11.5 C6.5,-11 1.5,-10 1.4,-7.9 C1.3,-6.4 3,-5.8 4.4,-5.5 C7,-4.9 10,-4.4 10.1,-2.8 C10.2,-1.2 8.5,-0.7 7,-0.6 C5,-0.5 2.5,-0.6 0.5,-0.6"/>
<path transform="translate(291.80,578.40)" d="M7.3,-5.6 C5.8,-7.0 0.9,-5.8 0.9,-2.9 C0.9,0 4.2,0.8 7.9,1.0"/>
<path transform="translate(301.63,578.40)" d="M1.4,0.2 C1.1,-2 0.9,-3.4 1.0,-4.2 C1.2,-6 2.5,-7.1 4.0,-7.1 C5.6,-7.1 7.1,-6.4 8.0,-5.4"/>
<path transform="translate(309.90,578.40)" d="M9.2,-5.4 C8.2,-6.6 6.8,-6.9 5.6,-6.6 C3.2,-6 1.3,-4.2 1.3,-2.3 C1.3,-0.8 2.4,-0.2 3.6,-0.3 C5.6,-0.5 7.8,-2.8 9.4,-5.8 M9.4,-6.2 C9.3,-4 9.6,-2.6 10.2,-1.6 C10.8,-0.7 11.5,0 12.2,0.4"/>
<path transform="translate(322.50,578.40)" d="M1.0,-5.4 L2.3,7.4 M1.2,-3.7 C2.4,-5.8 4.8,-6.9 6.6,-6.6 C8.6,-6.2 9.6,-4.8 9.5,-3.1 C9.4,-1 7,0.6 3.8,0.7 C2.8,0.7 2,0.4 1.6,-0.1"/>
<path transform="translate(331.70,578.40)" d="M1.1,-2.1 C3,-2.4 6.5,-3 8.7,-4.0 C9.6,-4.5 9.9,-5.2 9.5,-5.8 C9,-6.6 8,-7.1 6.7,-7.1 C3.5,-7.1 0.8,-4.8 0.8,-1.8 C0.8,0.6 2.6,2.1 5.2,2.1 C7,2.1 8.8,1.5 10,0.7"/>
<path transform="translate(343.13,578.40)" d="M1.4,0.2 C1.1,-2 0.9,-3.4 1.0,-4.2 C1.2,-6 2.5,-7.1 4.0,-7.1 C5.6,-7.1 7.1,-6.4 8.0,-5.4"/></g>
<g aria-label="Writer"><text class="lbl" x="482.6" y="572.8">Writer</text>
<path transform="translate(482.10,572.80)" d="M1.6,-10.1 C1.7,-6 2,-3 2.4,-0.5 L6.8,-6.3 L8.0,-0.6 L13.5,-11.3"/>
<path transform="translate(497.73,572.80)" d="M1.4,0.2 C1.1,-2 0.9,-3.4 1.0,-4.2 C1.2,-6 2.5,-7.1 4.0,-7.1 C5.6,-7.1 7.1,-6.4 8.0,-5.4"/>
<path transform="translate(506.30,572.80)" d="M0.2,-10.2 L2.2,-8.9 M1.5,-4.3 L1.7,0.3"/>
<path transform="translate(509.60,572.80)" d="M4.8,-11.9 C4.8,-7 5,-1 6.8,0 C7.8,0.5 9,-0.5 9.4,-2 M0.6,-7.6 L9.8,-9.1"/>
<path transform="translate(521.60,572.80)" d="M1.1,-2.1 C3,-2.4 6.5,-3 8.7,-4.0 C9.6,-4.5 9.9,-5.2 9.5,-5.8 C9,-6.6 8,-7.1 6.7,-7.1 C3.5,-7.1 0.8,-4.8 0.8,-1.8 C0.8,0.6 2.6,2.1 5.2,2.1 C7,2.1 8.8,1.5 10,0.7"/>
<path transform="translate(532.33,572.80)" d="M1.4,0.2 C1.1,-2 0.9,-3.4 1.0,-4.2 C1.2,-6 2.5,-7.1 4.0,-7.1 C5.6,-7.1 7.1,-6.4 8.0,-5.4"/></g>
<g aria-label="Note"><text class="lbl" x="682.5" y="562.8">Note</text>
<path transform="translate(683.10,562.80)" d="M3.0,-10.4 L0.5,0.4 M3.0,-10.4 L6.6,-1.0 L9.9,-12.6"/>
<path transform="translate(694.50,562.80)" d="M5.2,-6.8 C2.6,-6.8 0.9,-5.3 0.9,-3.5 C0.9,-1.7 2.6,-0.2 5.2,-0.2 C7.8,-0.2 9.5,-1.7 9.5,-3.6 C9.5,-5.4 7.8,-6.8 5.2,-6.8 Z"/>
<path transform="translate(704.40,562.80)" d="M4.8,-11.9 C4.8,-7 5,-1 6.8,0 C7.8,0.5 9,-0.5 9.4,-2 M0.6,-7.6 L9.8,-9.1"/>
<path transform="translate(716.80,562.80)" d="M1.1,-2.1 C3,-2.4 6.5,-3 8.7,-4.0 C9.6,-4.5 9.9,-5.2 9.5,-5.8 C9,-6.6 8,-7.1 6.7,-7.1 C3.5,-7.1 0.8,-4.8 0.8,-1.8 C0.8,0.6 2.6,2.1 5.2,2.1 C7,2.1 8.8,1.5 10,0.7"/></g>
<g aria-label="Taker"><text class="lbl" x="679.1" y="586.8">Taker</text>
<path transform="translate(679.80,586.80)" d="M0.4,-8.2 C2.5,-9.4 4.5,-10.1 6.7,-10.2 L15.6,-10.4 M8.0,-10.2 L8.1,0.5"/>
<path transform="translate(695.80,586.80)" d="M9.2,-5.4 C8.2,-6.6 6.8,-6.9 5.6,-6.6 C3.2,-6 1.3,-4.2 1.3,-2.3 C1.3,-0.8 2.4,-0.2 3.6,-0.3 C5.6,-0.5 7.8,-2.8 9.4,-5.8 M9.4,-6.2 C9.3,-4 9.6,-2.6 10.2,-1.6 C10.8,-0.7 11.5,0 12.2,0.4"/>
<path transform="translate(709.80,586.80)" d="M0.7,-11.1 L1.1,0.3 M7.6,-7.0 L1.9,-3.1 L6.6,0.3"/>
<path transform="translate(719.10,586.80)" d="M1.1,-2.1 C3,-2.4 6.5,-3 8.7,-4.0 C9.6,-4.5 9.9,-5.2 9.5,-5.8 C9,-6.6 8,-7.1 6.7,-7.1 C3.5,-7.1 0.8,-4.8 0.8,-1.8 C0.8,0.6 2.6,2.1 5.2,2.1 C7,2.1 8.8,1.5 10,0.7"/>
<path transform="translate(730.53,586.80)" d="M1.4,0.2 C1.1,-2 0.9,-3.4 1.0,-4.2 C1.2,-6 2.5,-7.1 4.0,-7.1 C5.6,-7.1 7.1,-6.4 8.0,-5.4"/></g>
<g aria-label="Chart"><text class="lbl" x="862.8" y="555.5">Chart</text>
<path transform="translate(862.60,555.50)" d="M9.2,-7.3 C9,-9.5 7.5,-10.8 6,-10.5 C3.5,-10 1.3,-7.5 1.3,-4.6 C1.3,-1.8 3.5,0 6.5,0 C8,0 9.2,-0.3 10,-0.8"/>
<path transform="translate(875.70,555.50)" d="M0.8,-10.1 L1.2,-0.2 M1.2,-3.6 C2.5,-6.2 6,-7.4 7.6,-5.8 C8.8,-4.4 9,-2 9.3,0"/>
<path transform="translate(885.10,555.50)" d="M9.2,-5.4 C8.2,-6.6 6.8,-6.9 5.6,-6.6 C3.2,-6 1.3,-4.2 1.3,-2.3 C1.3,-0.8 2.4,-0.2 3.6,-0.3 C5.6,-0.5 7.8,-2.8 9.4,-5.8 M9.4,-6.2 C9.3,-4 9.6,-2.6 10.2,-1.6 C10.8,-0.7 11.5,0 12.2,0.4"/>
<path transform="translate(898.33,555.50)" d="M1.4,0.2 C1.1,-2 0.9,-3.4 1.0,-4.2 C1.2,-6 2.5,-7.1 4.0,-7.1 C5.6,-7.1 7.1,-6.4 8.0,-5.4"/>
<path transform="translate(906.20,555.50)" d="M4.8,-11.9 C4.8,-7 5,-1 6.8,0 C7.8,0.5 9,-0.5 9.4,-2 M0.6,-7.6 L9.8,-9.1"/></g>
<g aria-label="Generato"><text class="lbl" x="850.1" y="580.1">Generato</text>
<path transform="translate(849.90,580.10)" d="M9.4,-11 C6,-9.5 1.3,-6.5 1.3,-3.6 C1.3,-0.6 4.5,-0.2 7,-0.8 C10,-1.6 13,-3.5 14.6,-4.9 M5.8,-5.6 L15.4,-4.9 M14.6,-4.6 L12.4,2.6"/>
<path transform="translate(866.60,580.10)" d="M1.1,-2.1 C3,-2.4 6.5,-3 8.7,-4.0 C9.6,-4.5 9.9,-5.2 9.5,-5.8 C9,-6.6 8,-7.1 6.7,-7.1 C3.5,-7.1 0.8,-4.8 0.8,-1.8 C0.8,0.6 2.6,2.1 5.2,2.1 C7,2.1 8.8,1.5 10,0.7"/>
<path transform="translate(877.40,580.10)" d="M1.7,-6.3 L0.8,-0.1 M1.1,-2.2 C2.2,-4.4 3.8,-6.3 5.1,-6.3 C6.4,-6.2 6.9,-3 7.3,0.1"/>
<path transform="translate(886.70,580.10)" d="M1.1,-2.1 C3,-2.4 6.5,-3 8.7,-4.0 C9.6,-4.5 9.9,-5.2 9.5,-5.8 C9,-6.6 8,-7.1 6.7,-7.1 C3.5,-7.1 0.8,-4.8 0.8,-1.8 C0.8,0.6 2.6,2.1 5.2,2.1 C7,2.1 8.8,1.5 10,0.7"/>
<path transform="translate(897.03,580.10)" d="M1.4,0.2 C1.1,-2 0.9,-3.4 1.0,-4.2 C1.2,-6 2.5,-7.1 4.0,-7.1 C5.6,-7.1 7.1,-6.4 8.0,-5.4"/>
<path transform="translate(904.50,580.10)" d="M9.2,-5.4 C8.2,-6.6 6.8,-6.9 5.6,-6.6 C3.2,-6 1.3,-4.2 1.3,-2.3 C1.3,-0.8 2.4,-0.2 3.6,-0.3 C5.6,-0.5 7.8,-2.8 9.4,-5.8 M9.4,-6.2 C9.3,-4 9.6,-2.6 10.2,-1.6 C10.8,-0.7 11.5,0 12.2,0.4"/>
<path transform="translate(917.50,580.10)" d="M4.8,-11.9 C4.8,-7 5,-1 6.8,0 C7.8,0.5 9,-0.5 9.4,-2 M0.6,-7.6 L9.8,-9.1"/>
<path transform="translate(929.20,580.10)" d="M5.2,-6.8 C2.6,-6.8 0.9,-5.3 0.9,-3.5 C0.9,-1.7 2.6,-0.2 5.2,-0.2 C7.8,-0.2 9.5,-1.7 9.5,-3.6 C9.5,-5.4 7.8,-6.8 5.2,-6.8 Z"/></g>
<g aria-label="r"><text class="lbl" x="890.8" y="605.3">r</text>
<path transform="translate(890.93,605.30)" d="M1.4,0.2 C1.1,-2 0.9,-3.4 1.0,-4.2 C1.2,-6 2.5,-7.1 4.0,-7.1 C5.6,-7.1 7.1,-6.4 8.0,-5.4"/></g>
</g>
</svg>
</body></html>
